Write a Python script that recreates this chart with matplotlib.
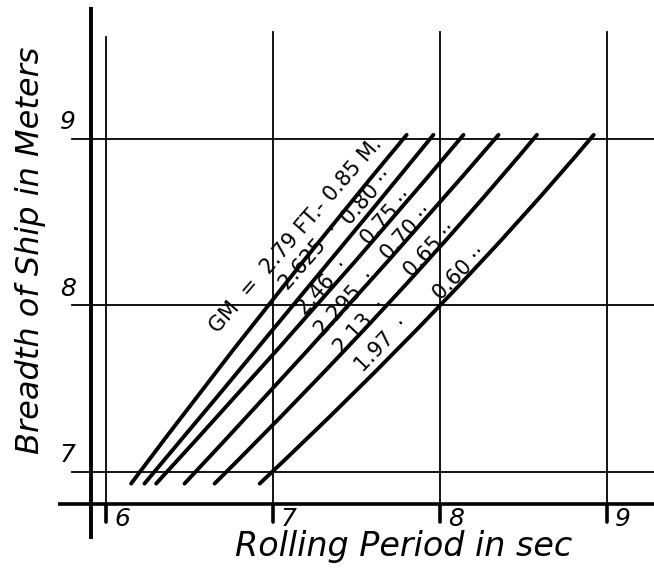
import matplotlib
matplotlib.use("Agg")
import matplotlib.pyplot as plt
from matplotlib.path import Path
from matplotlib.patches import PathPatch
import numpy as np

# GM values, one curve each
gm_ft = ["2.79", "2.625", "2.46", "2.295", "2.13", "1.97"]
gm_m = ["0.85", "0.80", "0.75", "0.70", "0.65", "0.60"]

# breadth (m) at which the period was read: lower end, 8 m line, upper end
breadth = [6.93, 8.0, 9.025]
# rolling period (sec) of each curve at those breadths
period = [
    [6.15, 6.97, 7.80],
    [6.23, 7.12, 7.96],
    [6.30, 7.26, 8.14],
    [6.47, 7.45, 8.35],
    [6.65, 7.68, 8.58],
    [6.92, 8.00, 8.92],
]

x_ticks = [6, 7, 8, 9]
y_ticks = [7, 8, 9]

fig = plt.figure(figsize=(6.54, 5.8), dpi=100)
ax = fig.add_axes([0, 0, 1, 1])
ax.set_xlim(5.365, 9.281)
ax.set_ylim(6.351, 9.835)
ax.axis("off")

# main (thick) axes
ax.plot([5.91, 5.91], [6.60, 9.79], color="black", lw=2.8, solid_capstyle="butt")
ax.plot([5.71, 9.30], [6.81, 6.81], color="black", lw=2.6, solid_capstyle="butt")

# grid lines
for xv in x_ticks:
    top = 9.61 if xv == 6 else 9.64
    ax.plot([xv, xv], [6.70, top], color="black", lw=1.3)
    ax.plot([xv, xv], [6.70, 6.81], color="black", lw=2.6, solid_capstyle="round")
    ax.text(xv + 0.095, 6.72, str(xv), fontsize=18, style="italic",
            ha="center", va="center")
for yv in y_ticks:
    ax.plot([5.796, 9.30], [yv, yv], color="black", lw=1.3)
    ax.text(5.77, yv + 0.10, str(yv), fontsize=18, style="italic",
            ha="center", va="center")

# GM curves
for p in period:
    p0 = np.array([p[0], breadth[0]])
    pm = np.array([p[1], breadth[1]])
    p2 = np.array([p[2], breadth[2]])
    ctrl = 2 * pm - (p0 + p2) / 2
    path = Path([p0, ctrl, p2], [Path.MOVETO, Path.CURVE3, Path.CURVE3])
    ax.add_patch(PathPatch(path, fill=False, lw=2.8, color="black",
                           capstyle="round"))

# curve labels
fs = 15
ax.text(7.135, 8.42, "GM  =  " + gm_ft[0] + " FT.- " + gm_m[0] + " M.",
        rotation=49, fontsize=fs, ha="center", va="center",
        rotation_mode="anchor")
ft_pos = [None, (7.221, 8.291), (7.299, 8.111), (7.431, 8.015),
          (7.521, 7.871), (7.652, 7.763)]
m_pos = [None, (7.563, 8.652), (7.682, 8.532), (7.802, 8.442),
         (7.940, 8.334), (8.119, 8.195)]
rot = [49, 49, 48, 48, 47, 46]
for i in range(1, 6):
    ax.text(*ft_pos[i], gm_ft[i] + "  \u00b7", rotation=rot[i], fontsize=fs,
            ha="center", va="center", rotation_mode="anchor")
    ax.text(*m_pos[i], gm_m[i] + " \u00b7\u00b7", rotation=rot[i], fontsize=fs,
            ha="center", va="center", rotation_mode="anchor")

# axis titles
ax.text(7.78, 6.55, "Rolling Period in sec", fontsize=24, style="italic",
        ha="center", va="center")
ax.text(5.55, 8.33, "Breadth of Ship in Meters", fontsize=23, style="italic",
        rotation=90, ha="center", va="center")

fig.savefig("out.png", dpi=100)
